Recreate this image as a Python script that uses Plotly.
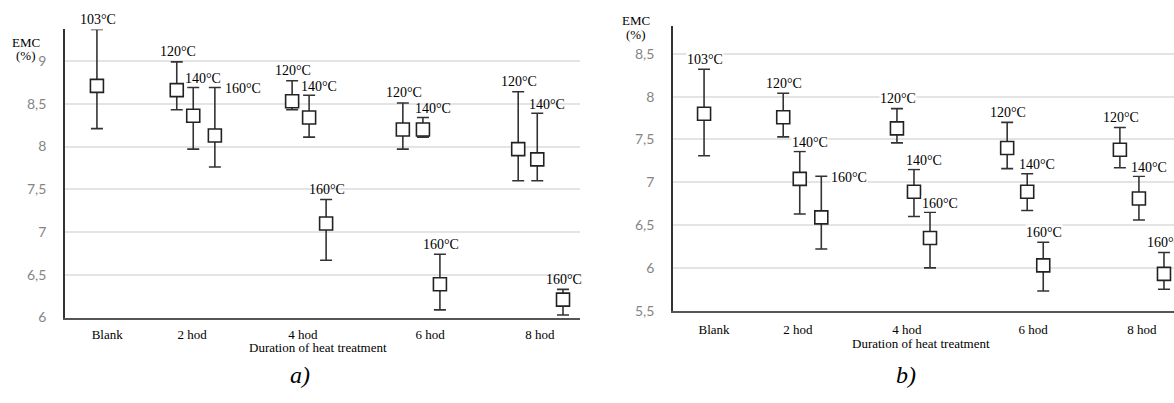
import numpy as np
import plotly.graph_objects as go

# ---------------- data ----------------
categories = ["Blank", "2 hod", "4 hod", "6 hod", "8 hod"]
temps = ["103°C", "120°C", "140°C", "160°C"]

# Panel a) : mean, upper end, lower end of error bars
A_103_mean = [8.71]; A_103_hi = [9.37]; A_103_lo = [8.21]
A_120_mean = [8.66, 8.53, 8.20, 7.97]; A_120_hi = [8.99, 8.77, 8.51, 8.64]; A_120_lo = [8.43, 8.43, 7.97, 7.60]
A_140_mean = [8.36, 8.34, 8.20, 7.85]; A_140_hi = [8.69, 8.60, 8.34, 8.39]; A_140_lo = [7.97, 8.11, 8.11, 7.60]
A_160_mean = [8.13, 7.10, 6.39, 6.21]; A_160_hi = [8.69, 7.38, 6.74, 6.33]; A_160_lo = [7.76, 6.67, 6.09, 6.03]

# Panel b)
B_103_mean = [7.80]; B_103_hi = [8.32]; B_103_lo = [7.31]
B_120_mean = [7.76, 7.63, 7.40, 7.38]; B_120_hi = [8.04, 7.86, 7.70, 7.64]; B_120_lo = [7.53, 7.46, 7.16, 7.17]
B_140_mean = [7.04, 6.89, 6.89, 6.81]; B_140_hi = [7.36, 7.15, 7.10, 7.07]; B_140_lo = [6.63, 6.60, 6.67, 6.56]
B_160_mean = [6.59, 6.35, 6.03, 5.93]; B_160_hi = [7.07, 6.65, 6.30, 6.18]; B_160_lo = [6.22, 6.00, 5.73, 5.75]

# x locations on a 0..10 axis (points are spread irregularly within each category)
A_x103 = [0.62]; A_x120 = [2.17, 4.41, 6.56, 8.80]; A_x140 = [2.49, 4.74, 6.95, 9.17]; A_x160 = [2.91, 5.07, 7.28, 9.67]
A_xticks = [0.82, 2.47, 4.62, 7.09, 9.22]
B_x103 = [0.62]; B_x120 = [2.20, 4.47, 6.67, 8.92]; B_x140 = [2.53, 4.81, 7.07, 9.30]; B_x160 = [2.96, 5.13, 7.39, 9.80]
B_xticks = [0.82, 2.49, 4.67, 7.19, 9.36]

A_yticks = [6, 6.5, 7, 7.5, 8, 8.5, 9]
A_ytext = ["6", "6,5", "7", "7,5", "8", "8,5", "9"]
B_yticks = [5.5, 6, 6.5, 7, 7.5, 8, 8.5]
B_ytext = ["5,5", "6", "6,5", "7", "7,5", "8", "8,5"]

# ---------------- styles ----------------
A_place = {"103°C": ["c"], "120°C": ["c"] * 4, "140°C": ["l"] * 4, "160°C": ["r", "c", "c", "c"]}
B_place = {"103°C": ["c"], "120°C": ["c"] * 4, "140°C": ["l"] * 4, "160°C": ["r", "l", "c", "c"]}
PLACE = {
    "c": dict(xanchor="center", xshift=1, yanchor="middle", yshift=10),
    "l": dict(xanchor="left", xshift=-9, yanchor="middle", yshift=9),
    "r": dict(xanchor="left", xshift=9, yanchor="middle", yshift=-1),
}
SERIF = "Liberation Serif"
W, H = 1174, 403

fig = go.Figure()

def add_panel(series, place, xa, ya, bg):
    for temp, (xs, m, hi, lo) in series.items():
        m = np.array(m); hi = np.array(hi); lo = np.array(lo)
        fig.add_trace(go.Scatter(
            x=xs, y=m, mode="markers", xaxis=xa, yaxis=ya, showlegend=False,
            marker=dict(symbol="square", size=13, color="white",
                        line=dict(color="#222", width=1.6)),
            error_y=dict(type="data", symmetric=False, array=hi - m, arrayminus=m - lo,
                         color="#333", thickness=1.6, width=6),
        ))
        for x, top, p in zip(xs, hi, place[temp]):
            fig.add_annotation(x=x, y=top, xref=xa, yref=ya, text=temp, showarrow=False,
                               font=dict(family=SERIF, size=14, color="black"),
                               bgcolor=bg, borderpad=0, **PLACE[p])

add_panel({"103°C": (A_x103, A_103_mean, A_103_hi, A_103_lo),
           "120°C": (A_x120, A_120_mean, A_120_hi, A_120_lo),
           "140°C": (A_x140, A_140_mean, A_140_hi, A_140_lo),
           "160°C": (A_x160, A_160_mean, A_160_hi, A_160_lo)}, A_place, "x", "y", "rgba(0,0,0,0)")
add_panel({"103°C": (B_x103, B_103_mean, B_103_hi, B_103_lo),
           "120°C": (B_x120, B_120_mean, B_120_hi, B_120_lo),
           "140°C": (B_x140, B_140_mean, B_140_hi, B_140_lo),
           "160°C": (B_x160, B_160_mean, B_160_hi, B_160_lo)}, B_place, "x2", "y2", "white")

def px_x(p): return p / W
def px_y(p): return 1 - p / H

xcommon = dict(range=[0, 10], showgrid=False, zeroline=False, showline=True, linecolor="#555",
               linewidth=1.8, ticks="", tickfont=dict(family=SERIF, size=13, color="black"))
ycommon = dict(showgrid=True, gridcolor="#e4e4e4", gridwidth=1.5, zeroline=False, showline=True,
               linecolor="#333", linewidth=1.8, ticks="", ticklabelstandoff=14,
               tickfont=dict(family="Lato", size=14, color="#858585"))

fig.update_layout(
    width=W, height=H, margin=dict(l=0, r=0, t=0, b=0),
    plot_bgcolor="white", paper_bgcolor="white",
    xaxis=dict(domain=[px_x(65), px_x(580)], anchor="y", tickvals=A_xticks, ticktext=categories,
               ticklabelstandoff=4, **xcommon),
    yaxis=dict(domain=[px_y(324), px_y(30)], anchor="x", range=[6, 9.37],
               tickvals=A_yticks, ticktext=A_ytext, **ycommon),
    xaxis2=dict(domain=[px_x(673), 1.0], anchor="y2", tickvals=B_xticks, ticktext=categories,
                ticklabelstandoff=6, **xcommon),
    yaxis2=dict(domain=[px_y(317), px_y(27)], anchor="x2", range=[5.5, 8.82],
                tickvals=B_yticks, ticktext=B_ytext, **ycommon),
)

def text(x, y, s, size=13, italic=False, xanchor="center"):
    fig.add_annotation(x=px_x(x), y=px_y(y), xref="paper", yref="paper", text=s, showarrow=False,
                       xanchor=xanchor, yanchor="middle",
                       font=dict(family=SERIF, size=size, color="black",
                                 style="italic" if italic else "normal"))

text(26, 43, "EMC", 13)
text(26, 57, "(%)", 13)
text(636, 21, "EMC", 13)
text(636, 35, "(%)", 13)
text(318, 355, "Duration of heat treatment", 13)
text(921, 350, "Duration of heat treatment", 13)
text(300, 383, "a)", 24, italic=True)
text(906, 383, "b)", 24, italic=True)

fig.write_html("out.html")
